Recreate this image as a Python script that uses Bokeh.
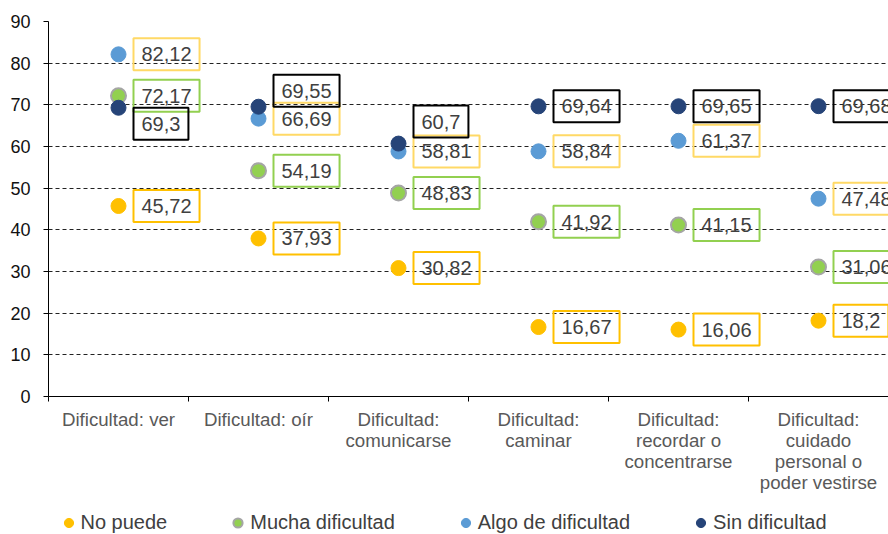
from bokeh.plotting import figure
from bokeh.models import ColumnDataSource, FixedTicker, Legend, LegendItem
from bokeh.layouts import column
from bokeh.core.properties import value
from bokeh.embed import file_html
from bokeh.resources import INLINE

categories = ["Dificultad: ver", "Dificultad: oír", "Dificultad:\ncomunicarse",
              "Dificultad:\ncaminar", "Dificultad:\nrecordar o\nconcentrarse",
              "Dificultad:\ncuidado\npersonal o\npoder vestirse"]
no_puede = [45.72, 37.93, 30.82, 16.67, 16.06, 18.2]
mucha = [72.17, 54.19, 48.83, 41.92, 41.15, 31.06]
algo = [82.12, 66.69, 58.81, 58.84, 61.37, 47.48]
sin = [69.3, 69.55, 60.7, 69.64, 69.65, 69.68]
series_names = ["No puede", "Mucha dificultad", "Algo de dificultad", "Sin dificultad"]
y_ticks = list(range(0, 100, 10))

# label vertical nudges (screen px) to avoid overlaps
label_nudge = {"Sin dificultad": [16, -16, -22, 0, 0, 0]}

FONT = "Liberation Sans"
xc = [i + 0.5 for i in range(len(categories))]

p = figure(width=888, height=511, x_range=(0, 6), y_range=(0, 90),
           output_backend="svg", toolbar_location=None,
           min_border_left=48, min_border_right=0, min_border_top=21, min_border_bottom=115)
p.outline_line_color = None
p.background_fill_color = "white"

p.xgrid.grid_line_color = None
p.ygrid.ticker = FixedTicker(ticks=y_ticks[1:])
p.ygrid.grid_line_color = "#222222"
p.ygrid.grid_line_dash = "4 3"
p.ygrid.grid_line_width = 1

p.yaxis.ticker = FixedTicker(ticks=y_ticks)
p.yaxis.axis_line_color = "black"
p.yaxis.major_tick_line_color = "black"
p.yaxis.major_tick_out = 5
p.yaxis.major_tick_in = 0
p.yaxis.minor_tick_line_color = None
p.yaxis.major_label_text_font = FONT
p.yaxis.major_label_text_font_size = "18px"
p.yaxis.major_label_text_color = "#111111"
p.yaxis.major_label_standoff = 13

p.xaxis.ticker = FixedTicker(ticks=xc, minor_ticks=list(range(0, 7)))
p.xaxis.major_label_overrides = {x: c for x, c in zip(xc, categories)}
p.xaxis.axis_line_color = "black"
p.xaxis.major_tick_line_color = None
p.xaxis.minor_tick_line_color = "black"
p.xaxis.minor_tick_out = 5
p.xaxis.minor_tick_in = 0
p.xaxis.major_label_text_font = FONT
p.xaxis.major_label_text_font_size = "18.7px"
p.xaxis.major_label_text_line_height = 1.0
p.xaxis.major_label_text_color = "#595959"
p.xaxis.major_label_text_align = "center"
p.xaxis.major_label_standoff = 6

dot_fill = ["#FFC000", "#92D050", "#5B9BD5", "#264478"]
dot_line = ["#FFC000", "#A5A5A5", "#5B9BD5", "#264478"]
box_line = ["#FFC000", "#92D050", "#FFD966", "#000000"]
all_vals = [no_puede, mucha, algo, sin]

# legend strip (separate small figure below the chart)
lg = figure(width=888, height=23, x_range=(0, 1), y_range=(0, 1),
            x_axis_location=None, y_axis_location=None,
            output_backend="svg", toolbar_location=None,
            min_border_left=0, min_border_right=0, min_border_top=0, min_border_bottom=0)
lg.grid.visible = False
lg.outline_line_color = None

items = []
for name, vals, fc, lc, bc in zip(series_names, all_vals, dot_fill, dot_line, box_line):
    nudge = label_nudge.get(name, [0] * len(vals))
    src = ColumnDataSource(dict(x=xc, y=vals,
                                lbl=[str(v).replace(".", ",") for v in vals],
                                yo=nudge))
    p.scatter("x", "y", source=src, size=15, fill_color=fc,
              line_color=lc, line_width=2 if lc != fc else 1)
    p.text("x", "y", text="lbl", source=src, x_offset=15, y_offset="yo",
           text_font=value(FONT), text_font_size="20px", text_color="#404040",
           text_baseline="middle", text_align="left",
           border_line_color=bc, border_line_width=2, padding=(8, 9))
    # same series in the legend strip (its points fall outside that strip's range)
    r = lg.scatter("x", "y", source=src, size=15, fill_color=fc,
                   line_color=lc, line_width=2 if lc != fc else 1)
    items.append(LegendItem(label=name, renderers=[r]))

legend = Legend(items=items, orientation="horizontal", location=(7.5, 0),
                glyph_width=25, glyph_height=23, label_standoff=0, spacing=58,
                padding=0, margin=0, border_line_color=None,
                background_fill_alpha=0,
                label_text_font=FONT, label_text_font_size="20px",
                label_text_color="#404040")
lg.add_layout(legend, "center")

layout = column(p, lg, spacing=0)
open("out.html", "w").write(file_html(layout, INLINE))
